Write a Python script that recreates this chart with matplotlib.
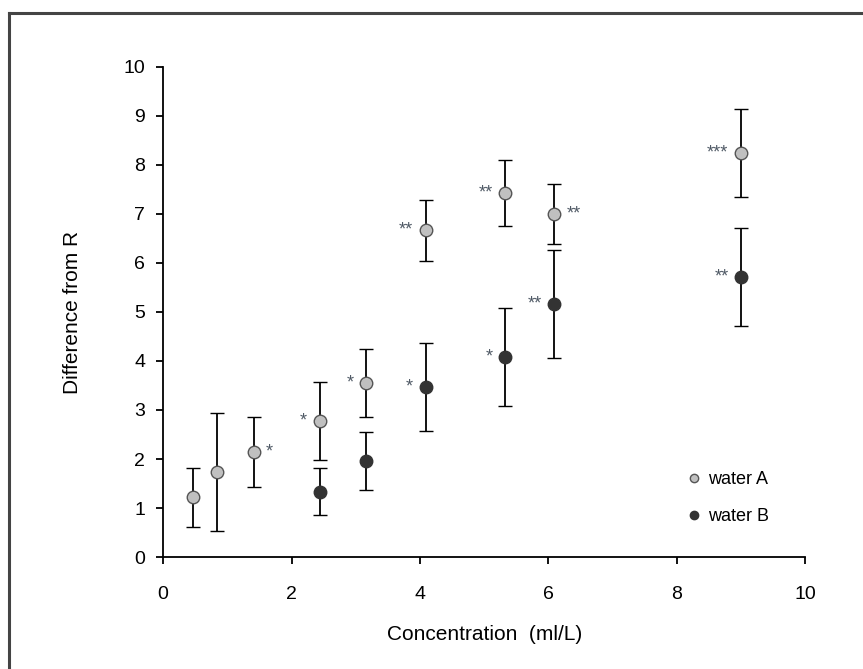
import numpy as np
import matplotlib.pyplot as plt
from matplotlib.lines import Line2D

plt.rcParams['font.family'] = ['Liberation Sans', 'DejaVu Sans']

# water A (grey points)
xa = [0.47, 0.84, 1.41, 2.44, 3.16, 4.09, 5.33, 6.09, 9.0]
ya = [1.22, 1.73, 2.14, 2.78, 3.55, 6.67, 7.43, 7.0, 8.24]
ea = [0.6, 1.2, 0.72, 0.8, 0.7, 0.62, 0.68, 0.61, 0.9]
sig_a = ['', '', '*', '*', '*', '**', '**', '**', '***']
side_a = ['', '', 'r', 'l', 'l', 'l', 'l', 'r', 'l']

# water B (dark points)
xb = [2.44, 3.16, 4.09, 5.33, 6.09, 9.0]
yb = [1.33, 1.96, 3.47, 4.08, 5.16, 5.71]
eb = [0.48, 0.6, 0.9, 1.0, 1.1, 1.0]
sig_b = ['', '', '*', '*', '**', '**']
side_b = ['', '', 'l', 'l', 'l', 'l']

fig = plt.figure(figsize=(8.63, 6.69), dpi=100)
ax = fig.add_axes([0.189, 0.1674, 0.744, 0.7325])

# outer frame (only top and left visible)
fig.add_artist(Line2D([0.0105, 0.0105], [0, 0.981], color='#444444', lw=2.2))
fig.add_artist(Line2D([0.0105, 1.0], [0.981, 0.981], color='#444444', lw=2.2))

ax.errorbar(xa, ya, yerr=ea, fmt='o', color='black', ecolor='black',
            mfc='#c0c0c0', mec='#555555', ms=9, mew=1.0,
            elinewidth=1.3, capsize=5, capthick=1.3)
ax.errorbar(xb, yb, yerr=eb, fmt='o', color='black', ecolor='black',
            mfc='#333333', mec='#333333', ms=9, mew=1.0,
            elinewidth=1.3, capsize=5, capthick=1.3)

def stars(xs, ys, sig, side):
    for x, y, s, d in zip(xs, ys, sig, side):
        if not s:
            continue
        if d == 'l':
            ax.annotate(s, (x, y), xytext=(-9, 0), textcoords='offset points',
                        ha='right', va='center', fontsize=13, color='#505a66')
        else:
            ax.annotate(s, (x, y), xytext=(9, 0), textcoords='offset points',
                        ha='left', va='center', fontsize=13, color='#505a66')

stars(xa, ya, sig_a, side_a)
stars(xb, yb, sig_b, side_b)

h1 = Line2D([], [], marker='o', ls='', mfc='#c0c0c0', mec='#555555', ms=6)
h2 = Line2D([], [], marker='o', ls='', mfc='#333333', mec='#333333', ms=6)
ax.legend([h1, h2], ['water A', 'water B'], frameon=False,
          loc='center left', bbox_to_anchor=(0.79, 0.12),
          handlelength=0.8, handletextpad=0.4, labelspacing=1.1,
          fontsize=13)

ax.set_xlim(0, 10)
ax.set_ylim(0, 10)
ax.set_xticks(np.arange(0, 11, 2))
ax.set_yticks(np.arange(0, 11, 1))
ax.spines['top'].set_visible(False)
ax.spines['right'].set_visible(False)
for sp in ['left', 'bottom']:
    ax.spines[sp].set_linewidth(1.3)
ax.tick_params(axis='x', direction='out', length=5, width=1.3, labelsize=14, pad=16)
ax.tick_params(axis='y', direction='out', length=5, width=1.3, labelsize=14, pad=8)
ax.set_xlabel('Concentration  (ml/L)', fontsize=15, labelpad=16)
ax.set_ylabel('Difference from R', fontsize=15, labelpad=30)

fig.savefig('out.png', dpi=100)
